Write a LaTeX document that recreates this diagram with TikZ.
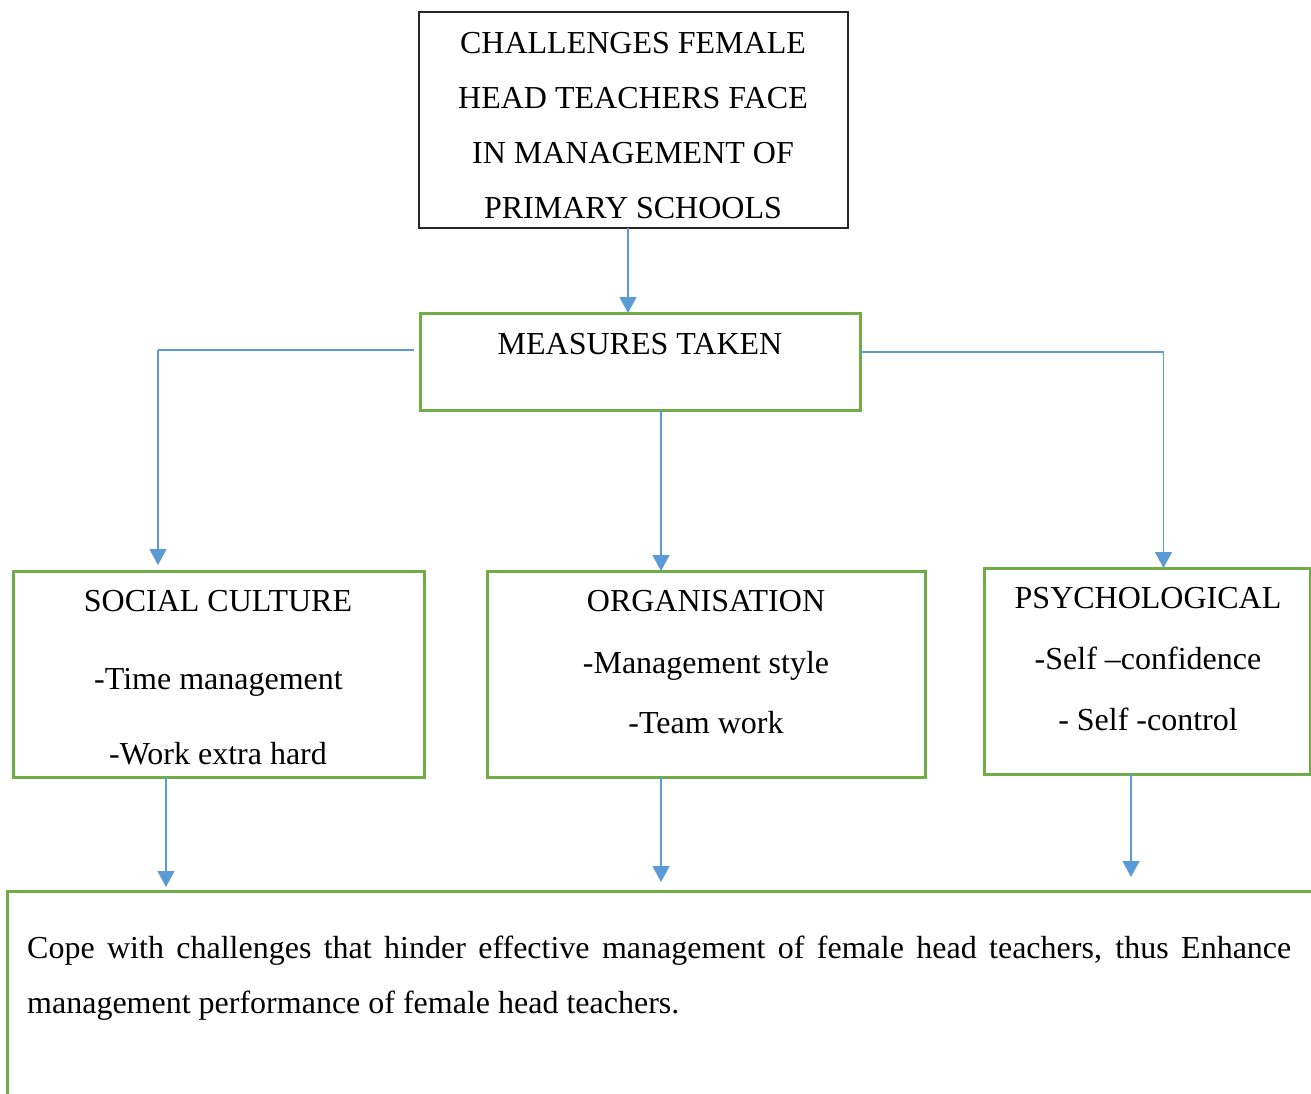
\documentclass[tikz,border=0pt]{standalone}
\usepackage{fontspec}
\setmainfont{Liberation Serif}
\usetikzlibrary{arrows.meta}
\definecolor{gr}{RGB}{112,173,71}
\definecolor{bl}{RGB}{91,155,213}
\tikzset{
  gbox/.style={draw=gr,line width=3pt,rectangle,inner sep=0pt,outer sep=0pt},
  kbox/.style={draw=black!85,line width=1.2pt,rectangle,inner sep=0pt,outer sep=0pt},
  conn/.style={draw=bl,line width=1.4pt},
  arr/.style={conn,-{Triangle[width=17pt,length=16pt]}},
  txt/.style={anchor=base,inner sep=0pt,font=\fontsize{32}{55}\selectfont}
}
\begin{document}
\begin{tikzpicture}[x=1pt,y=-1pt]
\useasboundingbox (0,0) rectangle (1311,1093);
% boxes
\node[kbox,minimum width=429pt,minimum height=216pt] (top) at (633.5,120) {};
\node[gbox,minimum width=440pt,minimum height=97pt] (meas) at (640,361.5) {};
\node[gbox,minimum width=411pt,minimum height=206pt] (soc) at (218.5,674) {};
\node[gbox,minimum width=438pt,minimum height=206pt] (org) at (706,674) {};
\node[gbox,minimum width=326pt,minimum height=206pt] (psy) at (1147,671) {};
\node[gbox,minimum width=1313pt,minimum height=219pt] (res) at (663.5,1000.5) {};
% texts
\node[txt] (t1) at (633,53) {CHALLENGES FEMALE};
\node[txt] (t2) at (633,108) {HEAD TEACHERS FACE};
\node[txt] (t3) at (633,163) {IN MANAGEMENT OF};
\node[txt] (t4) at (633,218) {PRIMARY SCHOOLS};
\node[txt] (m1) at (640,354) {MEASURES TAKEN};
\node[txt] (s1) at (218,611) {SOCIAL CULTURE};
\node[txt] (s2) at (218.5,689) {-Time management};
\node[txt] (s3) at (218,764) {-Work extra hard};
\node[txt] (o1) at (706,611) {ORGANISATION};
\node[txt] (o2) at (706,673) {-Management style};
\node[txt] (o3) at (706,733) {-Team work};
\node[txt] (p1) at (1148,608) {PSYCHOLOGICAL};
\node[txt] (p2) at (1148,669) {-Self –confidence};
\node[txt] (p3) at (1148,730) {- Self -control};
\node[anchor=north west,inner sep=0pt,text width=1264pt,align=justify,
      font=\fontsize{32}{55}\selectfont] (rt) at (27,936)
  {\hyphenpenalty=10000\relax\exhyphenpenalty=10000\relax Cope with challenges that hinder effective management of female head teachers, thus Enhance management performance of female head teachers.\par};
% connectors
\coordinate (cL) at (158,350);
\coordinate (cR) at (1163.5,352);
\draw[arr] ([xshift=-5.5pt]top.south) -- ([xshift=-5.5pt]top.south |- meas.north);
\draw[conn] ([xshift=-6pt]meas.west |- cL) -- (cL);
\draw[arr,shorten >=6pt] (cL) -- (cL |- soc.north);
\draw[arr] ([xshift=21pt]meas.south) -- ([xshift=21pt]meas.south |- org.north);
\draw[conn] (meas.east |- cR) -- (cR);
\draw[arr] (cR) -- (cR |- psy.north);
\draw[arr,shorten >=4pt] ([xshift=-52.5pt]soc.south) -- ([xshift=-52.5pt]soc.south |- res.north);
\draw[arr,shorten >=9pt] ([xshift=-45pt]org.south) -- ([xshift=-45pt]org.south |- res.north);
\draw[arr,shorten >=14pt] ([xshift=-16pt]psy.south) -- ([xshift=-16pt]psy.south |- res.north);
\end{tikzpicture}
\end{document}
